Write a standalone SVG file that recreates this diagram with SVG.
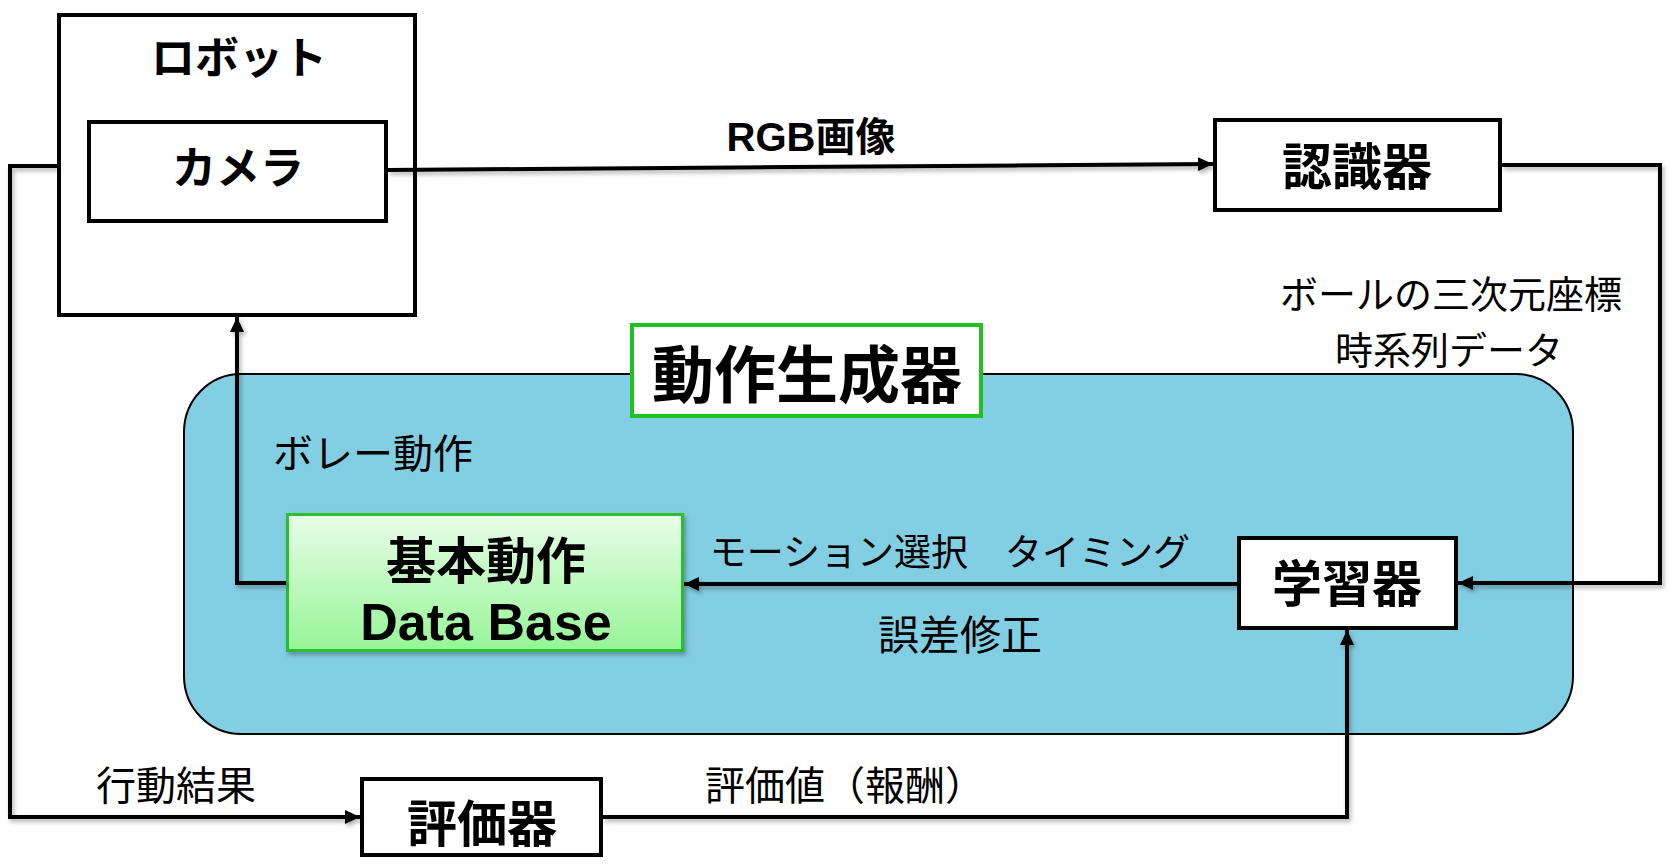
<svg xmlns="http://www.w3.org/2000/svg" width="1673" height="867" viewBox="0 0 1673 867">
<style>
.box{fill:#fff;stroke:#000;stroke-width:4}
.t{font-family:"Noto Sans CJK JP","Noto Sans",sans-serif;fill:#000;text-anchor:middle;dominant-baseline:central}
.b{font-weight:bold}
.lbl{font-size:40px}
.con{fill:none;stroke:#000;stroke-width:4;stroke-linejoin:miter}
</style>
<defs>
<marker id="arr" markerUnits="userSpaceOnUse" markerWidth="16" markerHeight="14" refX="15" refY="7" orient="auto">
<path d="M0,0 L15,7 L0,14 z" fill="#000"/>
</marker>
<filter id="sh" x="-5%" y="-5%" width="110%" height="120%">
<feDropShadow dx="2" dy="3" stdDeviation="2" flood-color="#000" flood-opacity="0.3"/>
</filter>
<linearGradient id="dbg" x1="0" y1="0" x2="0" y2="1">
<stop offset="0" stop-color="#e8fde8"/>
<stop offset="1" stop-color="#96f596"/>
</linearGradient>
</defs>

<g id="motion-generator-area">
<rect x="184" y="374" width="1389" height="360" rx="57" ry="58" fill="#82cee3" stroke="#000" stroke-width="2"/>
</g>

<g id="robot">
<rect class="box" x="59" y="15" width="356" height="300"/>
<text class="t b" x="239" y="55" font-size="44">ロボット</text>
</g>

<g id="camera">
<rect class="box" x="89" y="122" width="297" height="99"/>
<text class="t b" x="238" y="165" font-size="44">カメラ</text>
</g>

<g id="recognizer">
<rect class="box" x="1215" y="120" width="285" height="90"/>
<text class="t b" x="1357" y="163" font-size="50">認識器</text>
</g>

<g id="motion-generator-title">
<rect x="632" y="325" width="349" height="91" fill="#fff" stroke="#1ec31e" stroke-width="4"/>
<text class="t b" x="807" y="371" font-size="62">動作生成器</text>
</g>

<g id="database">
<rect x="287.5" y="514.5" width="395" height="136" fill="url(#dbg)" stroke="#2dbd2d" stroke-width="3" filter="url(#sh)"/>
<text class="t b" x="486" y="557" font-size="50">基本動作</text>
<text x="486" y="640" font-family="'Liberation Sans','Noto Sans',sans-serif" font-weight="bold" font-size="52" text-anchor="middle">Data Base</text>
</g>

<g id="learner">
<rect class="box" x="1239" y="538" width="217" height="90"/>
<text class="t b" x="1347" y="580" font-size="50">学習器</text>
</g>

<g id="evaluator">
<rect class="box" x="362" y="779" width="239" height="76"/>
<text class="t b" x="482" y="820" font-size="50">評価器</text>
</g>

<g id="connectors" filter="url(#sh)">
<path class="con" d="M388,170 L1213,164" marker-end="url(#arr)"/>
<path class="con" d="M1502,165 H1660 V583 H1458" marker-end="url(#arr)"/>
<path class="con" d="M1237,584 H684" marker-end="url(#arr)"/>
<path class="con" d="M286,583 H237 V317" marker-end="url(#arr)"/>
<path class="con" d="M57,166 H10 V817 H360" marker-end="url(#arr)"/>
<path class="con" d="M603,817 H1347 V630" marker-end="url(#arr)"/>
</g>

<g id="labels">
<text x="811" y="151" font-family="'Liberation Sans','Noto Sans CJK JP',sans-serif" font-weight="bold" font-size="40" text-anchor="middle">RGB画像</text>
<text class="t" x="1451" y="291" font-size="38">ボールの三次元座標</text>
<text class="t" x="1449" y="347" font-size="38">時系列データ</text>
<text class="t lbl" x="373" y="451">ボレー動作</text>
<text class="t" x="950" y="550" font-size="37">モーション選択　タイミング</text>
<text class="t" x="960" y="632" font-size="41">誤差修正</text>
<text class="t lbl" x="176" y="783">行動結果</text>
<text class="t lbl" x="845" y="783">評価値（報酬）</text>
</g>
</svg>
